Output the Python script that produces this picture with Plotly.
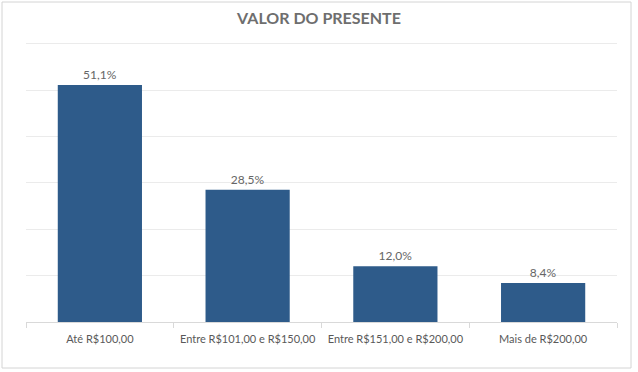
import plotly.graph_objects as go

categories = ["Até R$100,00", "Entre R$101,00 e R$150,00", "Entre R$151,00 e R$200,00", "Mais de R$200,00"]
values = [51.1, 28.5, 12.0, 8.4]
labels = ["51,1%", "28,5%", "12,0%", "8,4%"]

fig = go.Figure(go.Bar(
    x=categories, y=values, text=labels, textposition="outside",
    marker=dict(color="#2E5B8A", line=dict(width=0)),
    textfont=dict(color="#666666", size=12, family="Lato, sans-serif"),
    cliponaxis=False, width=0.57,
))
fig.update_layout(
    width=638, height=372,
    margin=dict(l=26, r=21, t=40, b=50, autoexpand=False),
    paper_bgcolor="white", plot_bgcolor="white",
    title=dict(text="<b>VALOR DO PRESENTE</b>", x=0.5, xanchor="center", y=0.95, yanchor="middle",
               font=dict(size=16, color="#6E6E6E", family="Lato, sans-serif")),
    showlegend=False,
    font=dict(family="Lato, sans-serif"),
)
fig.update_yaxes(range=[0, 60.8], dtick=10, showticklabels=False, showgrid=True,
                 gridcolor="#EBEBEB", gridwidth=1, zeroline=False, showline=False)
fig.update_xaxes(showline=True, linecolor="#D9D9D9", linewidth=1, ticks="outside",
                 tickson="boundaries", ticklen=5, tickcolor="#D9D9D9", ticklabelstandoff=7,
                 tickfont=dict(size=11, color="#595959", family="Lato, sans-serif"))
fig.add_shape(type="rect", xref="paper", yref="paper",
              x0=(2 - 26) / 591, x1=(631 - 26) / 591,
              y0=(322 - 368) / 282, y1=(322 - 2) / 282,
              line=dict(color="#D4D4D4", width=1), fillcolor="rgba(0,0,0,0)", layer="below")
fig.write_html("out.html", config={"displayModeBar": False},
               post_script="document.body.style.margin='0';document.body.style.padding='0';")
